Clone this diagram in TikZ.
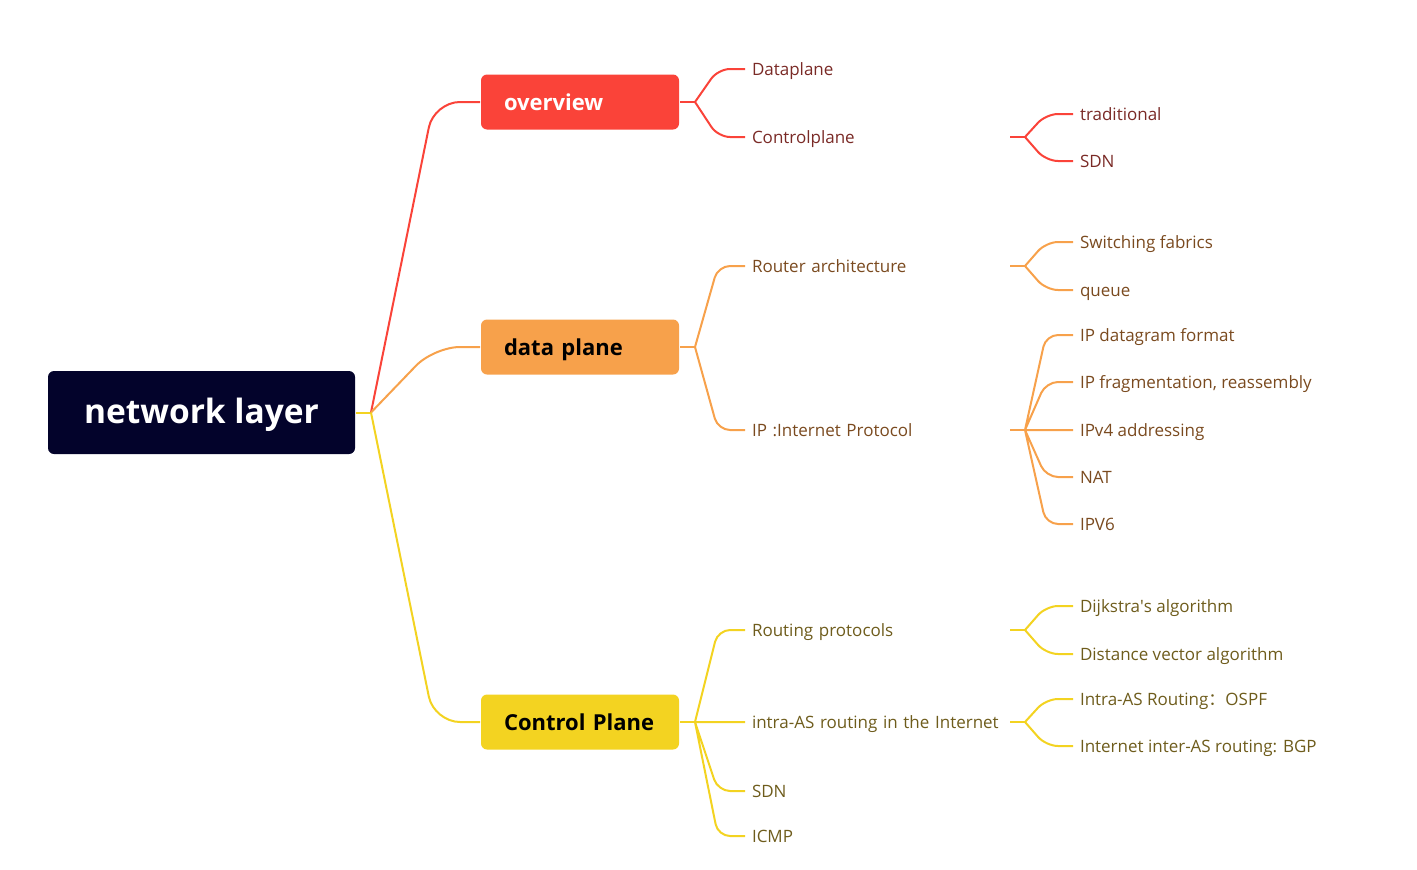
\documentclass[tikz,border=0pt]{standalone}
\usepackage{fontspec}
\setmainfont{Open Sans}
\newfontfamily\cjk{Noto Sans CJK SC}
\usetikzlibrary{positioning,calc}
\definecolor{rootnavy}{HTML}{03032B}
\definecolor{ovred}{HTML}{FA4339}
\definecolor{dporange}{HTML}{F7A14B}
\definecolor{cpyellow}{HTML}{F3D321}
\definecolor{redtxt}{HTML}{7A2A26}
\definecolor{orangetxt}{HTML}{7A4A1F}
\definecolor{yellowtxt}{HTML}{6E5C1C}
\newcommand{\straightq}{\XeTeXglyph\XeTeXglyphindex "quotesingle"\relax}

\begin{document}
\begin{tikzpicture}[x=1pt, y=-1pt, line width=2pt,
  root/.style={fill=rootnavy, rounded corners=6pt, text=white, minimum width=307pt, minimum height=83pt,
    font=\fontsize{33.5}{40}\selectfont\bfseries, text height=26pt, text depth=4pt},
  topic/.style={rounded corners=6pt, anchor=west, minimum width=198pt, minimum height=55pt, inner xsep=23pt,
    text width=152pt, align=left, font=\fontsize{22}{26}\selectfont\bfseries, text height=19pt, text depth=3pt},
  leaf/.style={anchor=west, inner xsep=6pt, inner ysep=0pt, font=\fontsize{17}{20}\selectfont, text height=15pt, text depth=2.5pt},
  mid/.style={leaf, text width=251pt, align=left},
  twig/.style={to path={-- ($(\tikztotarget)+(-#1,0)$) -- (\tikztotarget)}}, twig/.default=27,
  rline/.style={draw=ovred}, oline/.style={draw=dporange}, yline/.style={draw=cpyellow},
  curl/.style={rounded corners=12pt}]
  \useasboundingbox (0,0) rectangle (1417,870);

  % central topic
  \node[root] (net) at (201.5,412.5) {network layer};
  \coordinate[right=15pt of net] (netb);

  % main topics
  \node[topic, fill=ovred, text=white] (ov) at (480,102) {overview};
  \node[topic, fill=dporange, text=black] (dpl) at (480,347) {data plane};
  \node[topic, fill=cpyellow, text=black] (cpl) at (480,722) {Control Plane};
  \coordinate[right=15pt of ov] (ovb);
  \coordinate[right=15pt of dpl] (dplb);
  \coordinate[right=15pt of cpl] (cplb);

  \draw[yline] (net) -- (netb);
  \draw[rline, rounded corners=26pt] (netb) to[twig=46] (ov.west);
  \draw[oline, rounded corners=26pt] (netb) to[twig=46] (dpl.west);
  \draw[yline, rounded corners=26pt] (netb) to[twig=46] (cpl.west);

  % overview
  \node[mid, text=redtxt] (dapl) at (745,69) {Dataplane};
  \node[mid, text=redtxt] (ctpl) at (745,137) {Controlplane};
  \coordinate[right=15pt of ctpl] (ctplb);
  \node[leaf, text=redtxt] (trad) at (1073,114) {traditional};
  \node[leaf, text=redtxt] (sdna) at (1073,161) {SDN};
  \draw[rline] (ov) -- (ovb) (ctpl) -- (ctplb);
  \draw[rline, curl] (ovb) to[twig] (dapl.west) (ovb) to[twig] (ctpl.west);
  \draw[rline, curl] (ctplb) to[twig] (trad.west) (ctplb) to[twig] (sdna.west);

  % data plane
  \node[mid, text=orangetxt] (rarch) at (745,266) {Router architecture};
  \node[mid, text=orangetxt] (ipp) at (745,430) {IP :Internet Protocol};
  \coordinate[right=15pt of rarch] (rarchb);
  \coordinate[right=15pt of ipp] (ippb);
  \node[leaf, text=orangetxt] (swf) at (1073,242) {Switching fabrics};
  \node[leaf, text=orangetxt] (que) at (1073,290) {queue};
  \node[leaf, text=orangetxt] (ipdf) at (1073,335) {IP datagram format};
  \node[leaf, text=orangetxt] (ipfr) at (1073,382) {IP fragmentation, reassembly};
  \node[leaf, text=orangetxt] (ipva) at (1073,430) {IPv4 addressing};
  \node[leaf, text=orangetxt] (nat) at (1073,477) {NAT};
  \node[leaf, text=orangetxt] (ipvs) at (1073,524) {IPV6};
  \draw[oline] (dpl) -- (dplb) (rarch) -- (rarchb) (ipp) -- (ippb);
  \draw[oline, curl] (dplb) to[twig] (rarch.west) (dplb) to[twig] (ipp.west);
  \draw[oline, curl] (rarchb) to[twig] (swf.west) (rarchb) to[twig] (que.west);
  \draw[oline, curl] (ippb) to[twig] (ipdf.west) (ippb) to[twig] (ipfr.west) (ippb) to[twig] (ipva.west)
    (ippb) to[twig] (nat.west) (ippb) to[twig] (ipvs.west);

  % control plane
  \node[mid, text=yellowtxt] (rpro) at (745,630) {Routing protocols};
  \node[mid, text=yellowtxt] (intra) at (745,722) {intra-AS routing in the Internet};
  \node[mid, text=yellowtxt] (sdnb) at (745,791) {SDN};
  \node[mid, text=yellowtxt] (icmp) at (745,836) {ICMP};
  \coordinate[right=15pt of rpro] (rprob);
  \coordinate[right=15pt of intra] (intrab);
  \node[leaf, text=yellowtxt] (dijk) at (1073,606) {Dijkstra\straightq s algorithm};
  \node[leaf, text=yellowtxt] (dvec) at (1073,654) {Distance vector algorithm};
  \node[leaf, text=yellowtxt] (ospf) at (1073,699) {Intra-AS Routing{\cjk ：}OSPF};
  \node[leaf, text=yellowtxt] (bgp) at (1073,746) {Internet inter-AS routing: BGP};
  \draw[yline] (cpl) -- (cplb) (rpro) -- (rprob) (intra) -- (intrab);
  \draw[yline, curl] (cplb) to[twig] (rpro.west) (cplb) to[twig] (intra.west)
    (cplb) to[twig] (sdnb.west) (cplb) to[twig] (icmp.west);
  \draw[yline, curl] (rprob) to[twig] (dijk.west) (rprob) to[twig] (dvec.west);
  \draw[yline, curl] (intrab) to[twig] (ospf.west) (intrab) to[twig] (bgp.west);
\end{tikzpicture}
\end{document}
